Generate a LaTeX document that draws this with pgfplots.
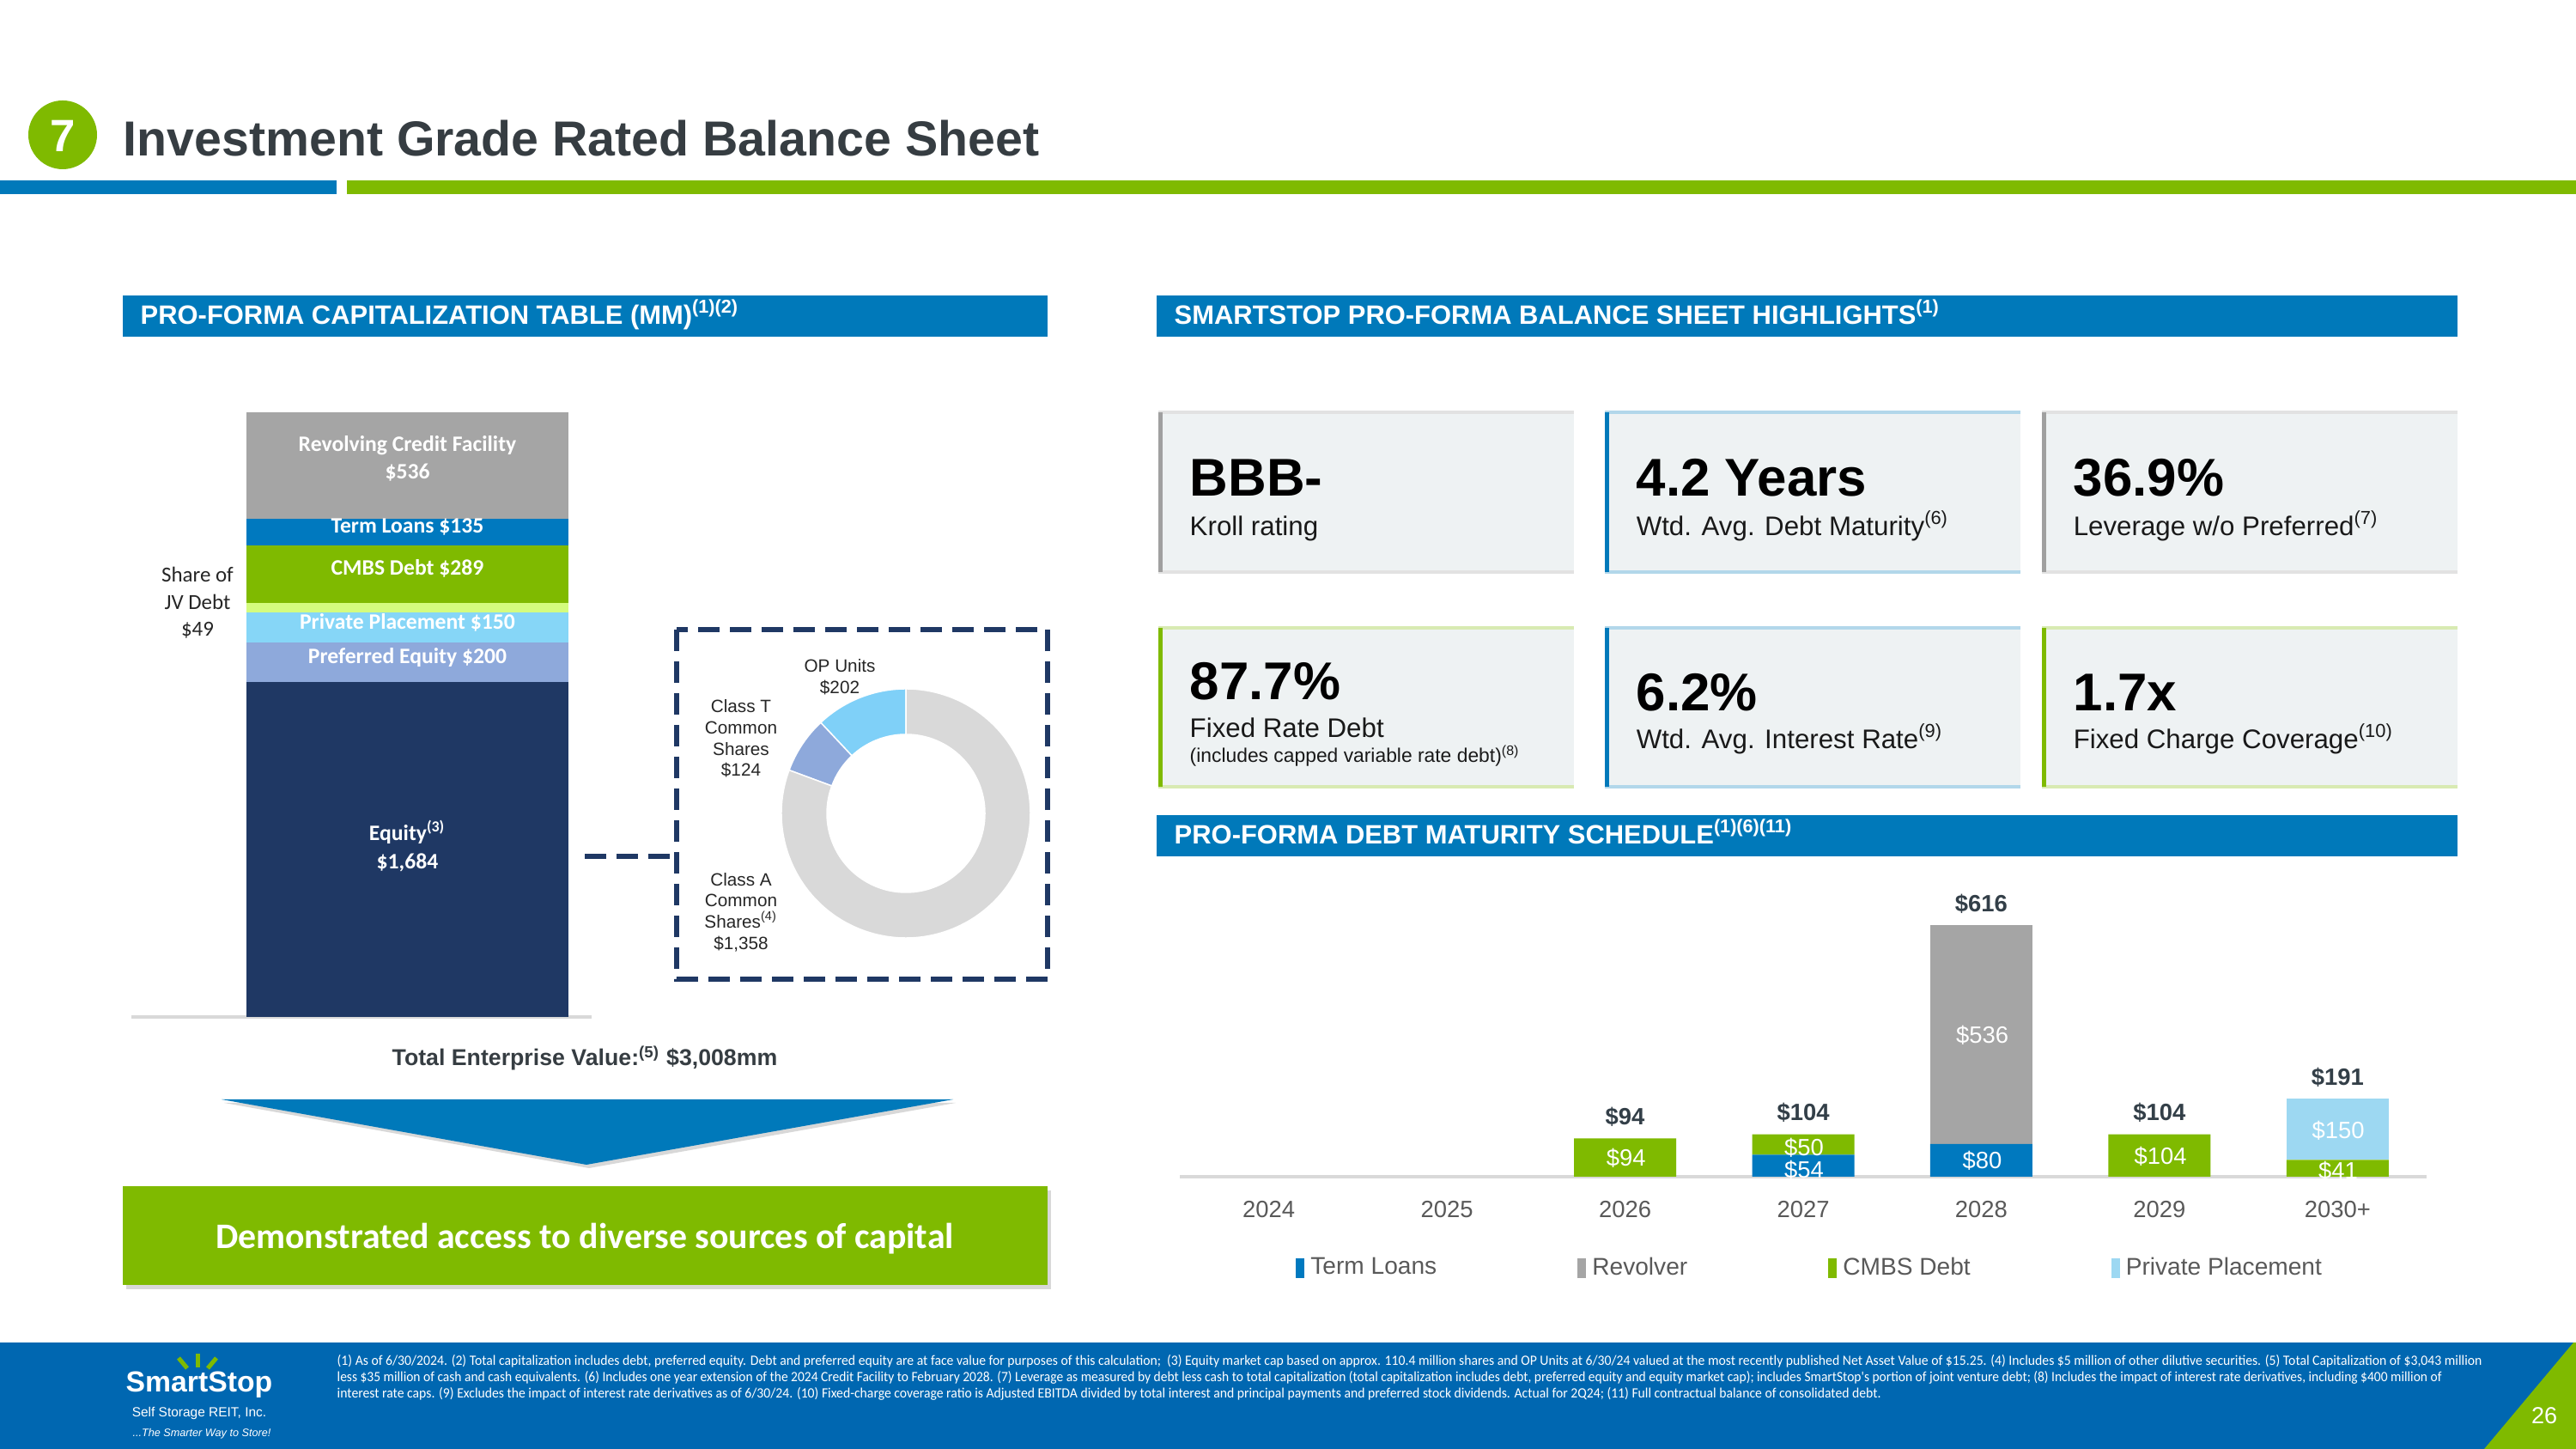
\documentclass[border=0pt]{standalone}
\usepackage{fontspec}
\setmainfont{Liberation Sans}
\newfontfamily\calibri{Carlito}
\usepackage{pgfplots}
\pgfplotsset{compat=1.18}
\usetikzlibrary{shadows}
\definecolor{ssblue}{HTML}{0079BA}
\definecolor{ssgreen}{HTML}{7FBA00}
\definecolor{footblue}{HTML}{0067B1}
\definecolor{titlegrey}{HTML}{363D42}
\definecolor{revgrey}{HTML}{A5A5A5}
\definecolor{termblue}{HTML}{0079BF}
\definecolor{jvgreen}{HTML}{D4FC7E}
\definecolor{ppblue}{HTML}{86D6F7}
\definecolor{prefblue}{HTML}{8EA9DB}
\definecolor{navy}{HTML}{1F3864}
\definecolor{donutgrey}{HTML}{D9D9D9}
\definecolor{opblue}{HTML}{7FD0F8}
\definecolor{boxfill}{HTML}{EEF2F3}
\definecolor{ppdebt}{HTML}{9DD8F2}
\definecolor{txtgrey}{HTML}{595959}
\definecolor{darktxt}{HTML}{333F48}
\definecolor{edgegrey}{HTML}{A0A0A0}
\newcommand\fs[2]{\fontsize{#1}{#2}\selectfont}
\newcommand\hlbox[5]{%
  \fill[boxfill] (#1,#2) rectangle (#3,#4);
  \draw[#5!30, line width=0.35mm] (#1,#2) -- (#3,#2);
  \draw[#5!30, line width=0.35mm] (#1,#4) -- (#3,#4);
  \fill[#5] (#1,#2) rectangle (#1+5,#4);
}
\tikzset{
  barlab/.style={white,align=center,font=\calibri\bfseries\fs{7.3}{9.3},inner sep=0},
  seglab/.style={white,font=\fs{7.8}{8},inner sep=0},
  totlab/.style={text=darktxt,font=\bfseries\fs{7.8}{8},inner sep=0,anchor=south,yshift=1.3mm},
  big/.style={font=\bfseries\fs{17.6}{18}},
  sub/.style={font=\fs{8.9}{10},text=black!90},
  hdr/.style={anchor=base west,white,font=\bfseries\fs{8.8}{9},inner sep=0},
}
\begin{document}
\begin{tikzpicture}
\useasboundingbox (0,0) rectangle (300mm,168.7mm);
\fill[white] (0,0) rectangle (300mm,168.7mm);
% donut
\def\valA{1358}\def\valT{124}\def\valOP{202}
\pgfmathsetmacro\donuttot{\valA+\valT+\valOP}
\pgfmathsetmacro\angOP{90+360*(\valOP/\donuttot)}
\pgfmathsetmacro\angT{\angOP+360*(\valT/\donuttot)}
\begin{scope}[shift={(105.5mm,74.0mm)},draw=white,line width=0.15mm]
\filldraw[fill=opblue] (90:14.5mm) arc[start angle=90,end angle=\angOP,radius=14.5mm] -- (\angOP:9.2mm) arc[start angle=\angOP,end angle=90,radius=9.2mm] -- cycle;
\filldraw[fill=prefblue] (\angOP:14.5mm) arc[start angle=\angOP,end angle=\angT,radius=14.5mm] -- (\angT:9.2mm) arc[start angle=\angT,end angle=\angOP,radius=9.2mm] -- cycle;
\filldraw[fill=donutgrey] (\angT:14.5mm) arc[start angle=\angT,end angle=450,radius=14.5mm] -- (450:9.2mm) arc[start angle=450,end angle=\angT,radius=9.2mm] -- cycle;
\end{scope}
% capitalization stacked bar
\begin{axis}[at={(15.3mm,50.3mm)},anchor=south west,scale only axis,width=53.6mm,height=70.4mm,
  xmin=153,xmax=689,ymin=0,ymax=3043,enlargelimits=false,clip=false,
  ybar stacked,bar width=37.5mm,hide y axis,axis x line*=bottom,
  x axis line style={-,draw=black!15,line width=0.35mm},xtick=\empty]
\addplot[fill=navy,draw=none] coordinates {(474.5,1684)};
\addplot[fill=prefblue,draw=none] coordinates {(474.5,200)};
\addplot[fill=ppblue,draw=none] coordinates {(474.5,150)};
\addplot[fill=jvgreen,draw=none] coordinates {(474.5,49)};
\addplot[fill=ssgreen,draw=none] coordinates {(474.5,289)};
\addplot[fill=termblue,draw=none] coordinates {(474.5,135)};
\addplot[fill=revgrey,draw=none] coordinates {(474.5,536)};
\end{axis}
% debt maturity
\begin{axis}[at={(137.4mm,31.7mm)},anchor=south west,scale only axis,width=145.2mm,height=33.3mm,
  xmin=-0.5,xmax=6.5,ymin=0,ymax=700,enlargelimits=false,clip=false,
  ybar stacked,bar width=11.9mm,hide y axis,axis x line*=bottom,
  x axis line style={-,draw=black!15,line width=0.35mm},
  xtick={0,...,6},xticklabels={2024,2025,2026,2027,2028,2029,2030+},
  tick style={draw=none},
  xticklabel style={font=\fs{7.8}{8},text=txtgrey,yshift=-1.6mm},
  legend style={at={(0.507,-0.32)},anchor=center,draw=none,fill=none,font=\fs{8}{9},text=txtgrey,
    /tikz/every even column/.append style={column sep=15.7mm}},
  legend columns=4,
  legend image code/.code={\fill[#1] (0mm,-1.15mm) rectangle (1.0mm,1.15mm);}]
\addplot[fill=termblue,draw=none] coordinates {(0,0) (1,0) (2,0) (3,54) (4,80) (5,0) (6,0)};
\addplot[fill=revgrey,draw=none] coordinates {(0,0) (1,0) (2,0) (3,0) (4,536) (5,0) (6,0)};
\addplot[fill=ssgreen,draw=none] coordinates {(0,0) (1,0) (2,94) (3,50) (4,0) (5,104) (6,41)};
\addplot[fill=ppdebt,draw=none] coordinates {(0,0) (1,0) (2,0) (3,0) (4,0) (5,0) (6,150)};
\legend{Term Loans,Revolver,CMBS Debt,Private Placement}
\node[totlab] at (axis cs:2,94) {\$94};
\node[totlab] at (axis cs:3,104) {\$104};
\node[totlab] at (axis cs:4,616) {\$616};
\node[totlab] at (axis cs:5,104) {\$104};
\node[totlab] at (axis cs:6,191) {\$191};
\end{axis}
\begin{scope}[x=0.1mm,y=-0.1mm,shift={(0,168.7mm)}]
% title
\fill[ssgreen] (73,157) circle (40);
\node[white,font=\bfseries\fs{15}{15},inner sep=0] at (73,158) {7};
\node[anchor=base west,text=titlegrey,font=\bfseries\fs{16.3}{18},inner sep=0] at (143,182) {Investment Grade Rated Balance Sheet};
\fill[ssblue] (0,210) rectangle (392,226);
\fill[ssgreen] (404,210) rectangle (3000,226);
% headers
\fill[ssblue] (143,344) rectangle (1220,392);
\node[hdr] at (163,378) {PRO-FORMA CAPITALIZATION TABLE (MM)\textsuperscript{(1)(2)}};
\fill[ssblue] (1347,344) rectangle (2862,392);
\node[hdr] at (1367,378) {SMARTSTOP PRO-FORMA BALANCE SHEET HIGHLIGHTS\textsuperscript{(1)}};
\fill[ssblue] (1347,949) rectangle (2862,997);
\node[hdr] at (1367,983) {PRO-FORMA DEBT MATURITY SCHEDULE\textsuperscript{(1)(6)(11)}};
% highlight boxes
\hlbox{1349}{480}{1833}{666}{edgegrey}
\hlbox{1869}{480}{2353}{666}{ssblue}
\hlbox{2378}{480}{2862}{666}{edgegrey}
\hlbox{1349}{731}{1833}{916}{ssgreen}
\hlbox{1869}{731}{2353}{916}{ssblue}
\hlbox{2378}{731}{2862}{916}{ssgreen}
\begin{scope}[every node/.style={anchor=base west,inner sep=0}]
\node[big] at (1385,578) {BBB-};
\node[sub] at (1385,624) {Kroll rating};
\node[big] at (1905,578) {4.2 Years};
\node[sub] at (1905,624) {Wtd. Avg. Debt Maturity\textsuperscript{(6)}};
\node[big] at (2414,578) {36.9\%};
\node[sub] at (2414,624) {Leverage w/o Preferred\textsuperscript{(7)}};
\node[big] at (1385,815) {87.7\%};
\node[sub] at (1385,859) {Fixed Rate Debt};
\node[font=\fs{6.5}{7},text=black!90] at (1385,888) {(includes capped variable rate debt)\textsuperscript{(8)}};
\node[big] at (1905,828) {6.2\%};
\node[sub] at (1905,872) {Wtd. Avg. Interest Rate\textsuperscript{(9)}};
\node[big] at (2414,828) {1.7x};
\node[sub] at (2414,872) {Fixed Charge Coverage\textsuperscript{(10)}};
\end{scope}
% labels on the capitalization bar
\node[barlab] at (474.5,534) {Revolving Credit Facility\\\$536};
\node[barlab] at (474.5,613) {Term Loans \$135};
\node[barlab] at (474.5,662) {CMBS Debt \$289};
\node[barlab] at (474.5,725) {Private Placement \$150};
\node[barlab] at (474.5,766) {Preferred Equity \$200};
\node[barlab] at (474.5,985) {Equity\textsuperscript{(3)}\\\$1,684};
% labels on the maturity bars
\node[seglab] at (1893.6,1348) {\$94};
\node[seglab] at (2101,1362) {\$54};
\node[seglab] at (2101,1336) {\$50};
\node[seglab] at (2308.5,1351) {\$80};
\node[seglab] at (2308.5,1205) {\$536};
\node[seglab] at (2516,1346) {\$104};
\node[seglab] at (2723,1363) {\$41};
\node[seglab] at (2723,1316) {\$150};
% dashed box + connector
\draw[navy,line width=0.55mm,dash pattern=on 2.5mm off 1.2mm] (788,733) rectangle (1220,1140);
\draw[navy,line width=0.55mm,dash pattern=on 2.5mm off 1.2mm] (681,997) -- (788,997);
% donut labels
\node[align=center,font=\fs{5.9}{7.1},text=black!85,inner sep=0] at (978,788) {OP Units\\\$202};
\node[align=center,font=\fs{5.9}{7.0},text=black!85,inner sep=0] at (863,860) {Class T\\Common\\Shares\\\$124};
\node[align=center,font=\fs{5.9}{7.0},text=black!85,inner sep=0] at (863,1062) {Class A\\Common\\Shares\textsuperscript{(4)}\\\$1,358};
% JV label
\node[align=center,font=\calibri\fs{7.1}{9},text=black!85,inner sep=0] at (230,702) {Share of\\JV Debt\\\$49};
% total EV
\node[font=\bfseries\fs{7.6}{8},text=titlegrey,inner sep=0] at (681,1232) {Total Enterprise Value:\textsuperscript{(5)} \$3,008mm};
% arrow and green box
\fill[ssblue,drop shadow={shadow xshift=0.3mm,shadow yshift=-0.4mm,opacity=0.3}] (258,1280) -- (1110,1280) -- (683,1356) -- cycle;
\fill[ssgreen,drop shadow={shadow xshift=0.4mm,shadow yshift=-0.5mm,opacity=0.3}] (143,1381) rectangle (1220,1496);
\node[white,font=\calibri\bfseries\fs{11.9}{12},inner sep=0] at (681,1442) {Demonstrated access to diverse sources of capital};
% footer
\fill[footblue] (0,1563) rectangle (3000,1687);
\fill[ssgreen] (2997,1563) -- (3000,1563) -- (3000,1687) -- (2893,1687) -- cycle;
\node[white,font=\fs{7.7}{8},inner sep=0] at (2963,1648) {26};
\draw[ssgreen,line width=0.5mm] (230,1576) -- (230,1592);
\draw[ssgreen,line width=0.5mm] (208,1581) -- (218,1593);
\draw[ssgreen,line width=0.5mm] (252,1581) -- (242,1593);
\node[white,font=\bfseries\fs{9.6}{10},inner sep=0] at (232,1612) {SmartStop};
\node[white,font=\fs{4.4}{5},inner sep=0] at (232,1645) {Self Storage REIT, Inc.};
\node[white,font=\itshape\fs{3.6}{4},inner sep=0] at (235,1669) {...The Smarter Way to Store!};
\begin{scope}[every node/.style={anchor=base west,inner sep=0,white,font=\calibri\fs{4.7}{5}}]
\node at (392,1589) {\resizebox{249.8mm}{\height}{(1) As of 6/30/2024. (2) Total capitalization includes debt, preferred equity. Debt and preferred equity are at face value for purposes of this calculation;~ (3) Equity market cap based on approx. 110.4 million shares and OP Units at 6/30/24 valued at the most recently published Net Asset Value of \$15.25. (4) Includes \$5 million of other dilutive securities. (5) Total Capitalization of \$3,043 million}};
\node at (392,1608) {\resizebox{245.1mm}{\height}{less \$35 million of cash and cash equivalents. (6) Includes one year extension of the 2024 Credit Facility to February 2028. (7) Leverage as measured by debt less cash to total capitalization (total capitalization includes debt, preferred equity and equity market cap); includes SmartStop's portion of joint venture debt; (8) Includes the impact of interest rate derivatives, including \$400 million of}};
\node at (392,1627) {\resizebox{179.8mm}{\height}{interest rate caps. (9) Excludes the impact of interest rate derivatives as of 6/30/24. (10) Fixed-charge coverage ratio is Adjusted EBITDA divided by total interest and principal payments and preferred stock dividends. Actual for 2Q24; (11) Full contractual balance of consolidated debt.}};
\end{scope}
\end{scope}
\end{tikzpicture}
\end{document}
